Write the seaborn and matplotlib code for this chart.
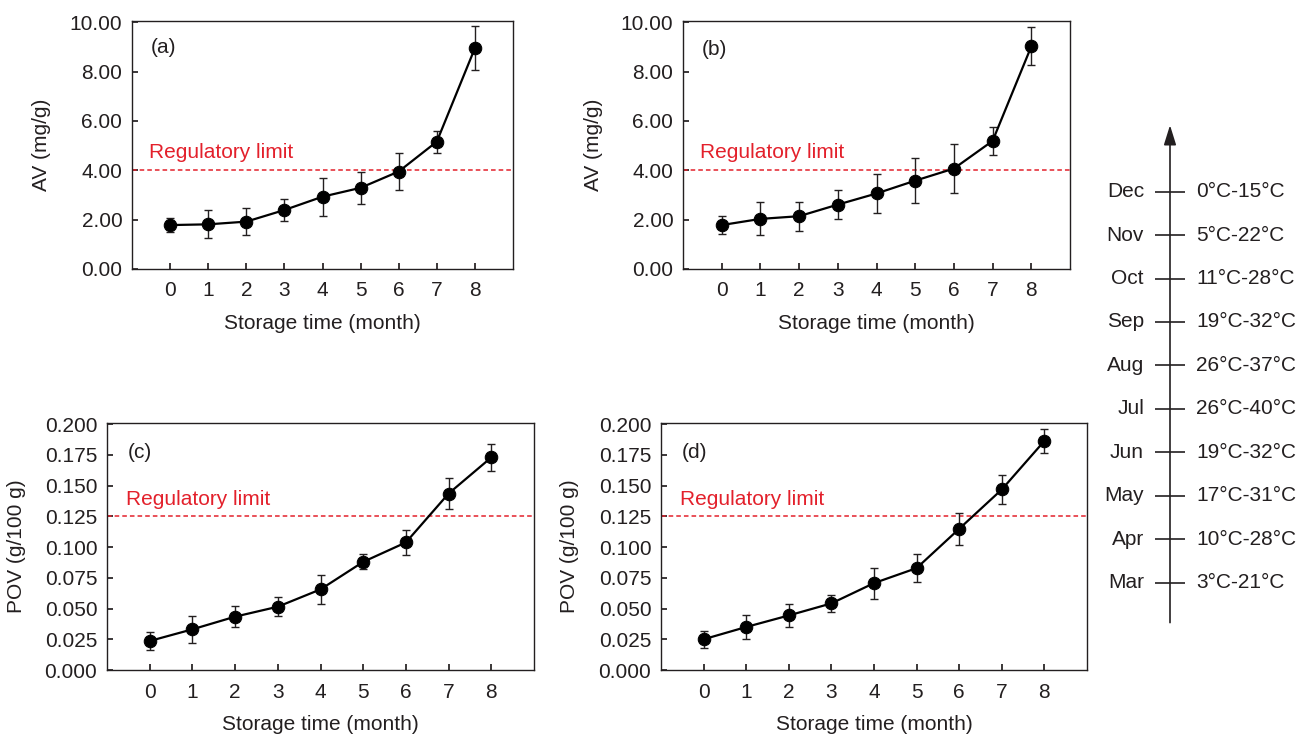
import numpy as np
import matplotlib
matplotlib.use("Agg")
import matplotlib.pyplot as plt
import seaborn as sns
from matplotlib.ticker import FormatStrFormatter, MultipleLocator

# storage time (month)
months = np.arange(9)

# acid value, mg/g
av_a = [1.78, 1.81, 1.92, 2.39, 2.93, 3.29, 3.95, 5.16, 8.95]
av_a_err = [0.30, 0.57, 0.55, 0.45, 0.77, 0.66, 0.75, 0.45, 0.88]
av_b = [1.78, 2.03, 2.14, 2.61, 3.06, 3.58, 4.07, 5.19, 9.02]
av_b_err = [0.36, 0.67, 0.58, 0.60, 0.78, 0.92, 1.01, 0.55, 0.77]

# peroxide value, g/100 g
pov_c = [0.0236, 0.0331, 0.0434, 0.0515, 0.0656, 0.0880, 0.1038, 0.1436, 0.1730]
pov_c_err = [0.0072, 0.0110, 0.0083, 0.0077, 0.0117, 0.0062, 0.0102, 0.0125, 0.0112]
pov_d = [0.0250, 0.0350, 0.0444, 0.0542, 0.0707, 0.0829, 0.1149, 0.1469, 0.1864]
pov_d_err = [0.0071, 0.0100, 0.0094, 0.0072, 0.0126, 0.0115, 0.0130, 0.0117, 0.0096]

av_limit = 4.0
pov_limit = 0.125

cal_months = ["Mar", "Apr", "May", "Jun", "Jul", "Aug", "Sep", "Oct", "Nov", "Dec"]
temps = ["3°C-21°C", "10°C-28°C", "17°C-31°C", "19°C-32°C", "26°C-40°C",
         "26°C-37°C", "19°C-32°C", "11°C-28°C", "5°C-22°C", "0°C-15°C"]

ink = "#231f20"
red = "#e3202b"

sns.set_theme(style="ticks")
plt.rcParams["font.family"] = ["Liberation Sans", "DejaVu Sans"]
plt.rcParams.update({
    "font.size": 15,
    "axes.labelsize": 15,
    "xtick.labelsize": 15,
    "ytick.labelsize": 15,
    "axes.edgecolor": ink,
    "axes.linewidth": 1.0,
    "xtick.direction": "in",
    "ytick.direction": "in",
    "xtick.color": ink,
    "ytick.color": ink,
    "text.color": ink,
    "axes.labelcolor": ink,
    "xtick.major.size": 4.5,
    "ytick.major.size": 4.5,
    "xtick.major.pad": 9,
    "ytick.major.pad": 7,
})

fig = plt.figure(figsize=(12.99, 7.36), dpi=100)
W, H = 1299, 736


def panel(rect, y, err, limit, ylim, step, fmt, ylabel, tag, tag_y, lim_y, label_x):
    ax = fig.add_axes([rect[0] / W, (H - rect[3]) / H, (rect[1] - rect[0]) / W, (rect[3] - rect[2]) / H])
    ax.errorbar(months, y, yerr=err, fmt="none", ecolor=ink, elinewidth=1.0,
                capsize=3, capthick=1.0, zorder=2)
    sns.lineplot(x=months, y=y, ax=ax, color="black", marker="o", markersize=9,
                 markeredgecolor="black", linewidth=1.6, zorder=3)
    ax.axhline(limit, color=red, ls=(0, (3, 2)), lw=1.1, zorder=1)
    ax.text(-0.55, lim_y, "Regulatory limit", color=red, ha="left", va="center")
    ax.text(-0.52, tag_y, tag, ha="left", va="center")
    ax.set_xlim(-1, 9)
    ax.set_ylim(*ylim)
    ax.set_xticks(months)
    ax.yaxis.set_major_locator(MultipleLocator(step))
    ax.yaxis.set_major_formatter(FormatStrFormatter(fmt))
    ax.tick_params(direction="in", top=False, right=False)
    ax.set_xlabel("Storage time (month)", labelpad=10)
    ax.set_ylabel(ylabel)
    ax.yaxis.set_label_coords(label_x, 0.5)
    return ax


panel((132, 513, 21, 269), av_a, av_a_err, av_limit, (0, 10.05), 2, "%.2f",
      "AV (mg/g)", "(a)", 8.97, 4.71, -0.213)
panel((683, 1070, 21, 269), av_b, av_b_err, av_limit, (0, 10.05), 2, "%.2f",
      "AV (mg/g)", "(b)", 8.88, 4.71, -0.208)
panel((107, 534, 423, 670), pov_c, pov_c_err, pov_limit, (0, 0.201), 0.025, "%.3f",
      "POV (g/100 g)", "(c)", 0.1767, 0.139, -0.189)
panel((661, 1087, 423, 670), pov_d, pov_d_err, pov_limit, (0, 0.201), 0.025, "%.3f",
      "POV (g/100 g)", "(d)", 0.177, 0.139, -0.192)

# month / temperature timeline
tl = fig.add_axes([1095 / W, 106 / H, 204 / W, 520 / H])
tl.set_xlim(-75, 129)
tl.set_ylim(-1.09, 10.88)
tl.axis("off")
idx = np.arange(len(cal_months))
tl.annotate("", xy=(0, 10.53), xytext=(0, -0.92),
            arrowprops=dict(arrowstyle="-|>,head_length=0.8,head_width=0.25",
                            color=ink, lw=1.2, mutation_scale=15,
                            shrinkA=0, shrinkB=0))
tl.hlines(idx, -15, 15, color=ink, lw=1.2)
for i, (m, t) in enumerate(zip(cal_months, temps)):
    tl.text(-26, i, m, ha="right", va="center")
    tl.text(26, i, t, ha="left", va="center")

fig.savefig("out.png", dpi=100)
